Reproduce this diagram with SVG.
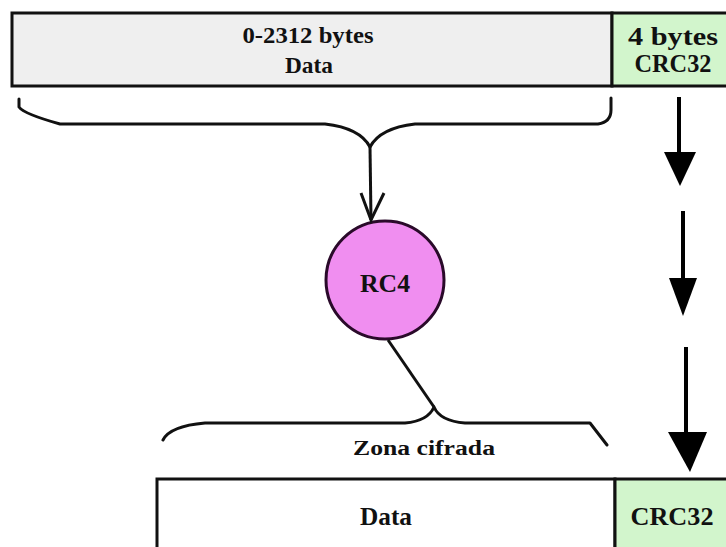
<svg xmlns="http://www.w3.org/2000/svg" width="726" height="547" viewBox="0 0 726 547">
  <style>
    .cell { stroke: #111; stroke-width: 3; }
    .gray { fill: #efefef; }
    .green { fill: #d2f5cc; }
    .white { fill: #ffffff; }
    .lbl { font-family: "Liberation Serif", "Times New Roman", serif; font-weight: bold; fill: #111; text-anchor: middle; }
    .brace { fill: none; stroke: #111; stroke-width: 3; stroke-linejoin: round; stroke-linecap: round; }
    .wire { fill: none; stroke: #111; stroke-width: 3; }
    .shaft { stroke: #000; stroke-width: 4; }
    .head { fill: #000; }
  </style>
  <rect width="726" height="547" fill="#ffffff"/>

  <!-- source frame: payload + checksum -->
  <g id="frame-in">
    <rect class="cell gray" x="12" y="13" width="600" height="73"/>
    <rect class="cell green" x="612" y="13" width="120" height="73"/>
    <text class="lbl" x="308" y="43" font-size="24" textLength="131" lengthAdjust="spacingAndGlyphs">0-2312 bytes</text>
    <text class="lbl" x="309" y="73" font-size="24" textLength="48" lengthAdjust="spacingAndGlyphs">Data</text>
    <text class="lbl" x="673" y="45" font-size="26" textLength="90" lengthAdjust="spacingAndGlyphs">4 bytes</text>
    <text class="lbl" x="673" y="72" font-size="25" textLength="77" lengthAdjust="spacingAndGlyphs">CRC32</text>
  </g>

  <!-- cipher -->
  <g id="rc4">
    <circle cx="385" cy="280" r="59" fill="#f08ef0" stroke="#2a0a2a" stroke-width="3"/>
    <text class="lbl" x="385" y="292" font-size="25" textLength="50" lengthAdjust="spacingAndGlyphs">RC4</text>
  </g>

  <!-- encrypted zone label -->
  <g id="zone">
    <text class="lbl" x="424" y="455" font-size="20" textLength="142" lengthAdjust="spacingAndGlyphs">Zona cifrada</text>
  </g>

  <!-- output frame -->
  <g id="frame-out">
    <rect class="cell white" x="157" y="479" width="458" height="80"/>
    <rect class="cell green" x="615" y="479" width="120" height="80"/>
    <text class="lbl" x="386" y="525" font-size="26" textLength="52" lengthAdjust="spacingAndGlyphs">Data</text>
    <text class="lbl" x="672" y="525" font-size="26" textLength="83" lengthAdjust="spacingAndGlyphs">CRC32</text>
  </g>

  <g id="connectors">
    <!-- upper brace gathering the payload -->
    <path class="brace" d="M 19 99 L 19 107 Q 24 114 60 124 L 325 124 Q 360 128 370 147 Q 380 128 415 124 L 598 124 Q 611 122 611 110 L 611 98"/>
    <!-- brace to cipher -->
    <path class="wire" d="M 370 147 L 371 220"/>
    <path class="wire" d="M 361 193 L 371 220 L 384 193"/>
    <!-- cipher to lower brace -->
    <path class="wire" d="M 388 340 L 434 407"/>
    <!-- lower brace over the encrypted zone -->
    <path class="brace" d="M 163 440 Q 170 426 205 423 L 405 423 Q 428 421 434 407 Q 440 421 465 423 L 590 423 L 607 445"/>
    <!-- checksum passes straight down -->
    <line class="shaft" x1="679" y1="97" x2="679" y2="158"/>
    <polygon class="head" points="664,152 696,152 680,186"/>
    <line class="shaft" x1="683" y1="211" x2="683" y2="284"/>
    <polygon class="head" points="669,278 697,278 683,316"/>
    <line class="shaft" x1="686" y1="347" x2="686" y2="438"/>
    <polygon class="head" points="668,432 707,432 690,472"/>
  </g>
</svg>
